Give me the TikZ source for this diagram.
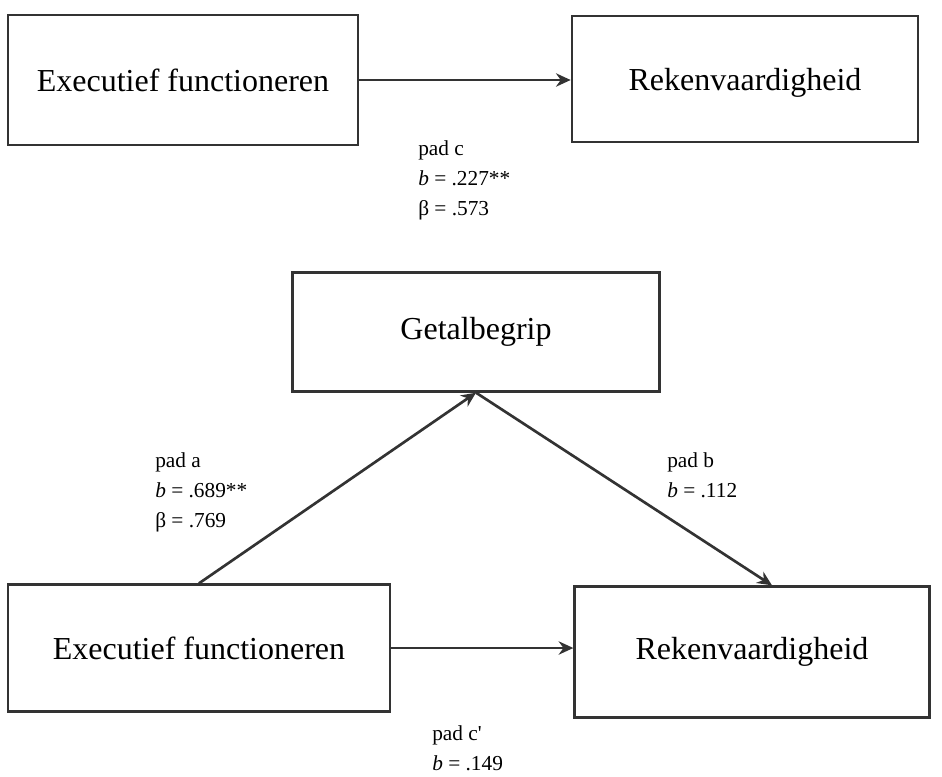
\documentclass[tikz,border=0pt]{standalone}
\usepackage{fontspec}
\setmainfont{Liberation Serif}
\usepackage{tikz}
\usetikzlibrary{positioning}
\usetikzlibrary{arrows.meta}
\tikzset{
    mediation/.style={
            x=0.75pt,y=-0.75pt,
            box/.style={draw=black!80,line width=2pt,inner sep=0pt,
                font=\fontsize{24}{28}\selectfont},
            arrow/.style={-{Stealth[length=11pt,width=10pt]},line width=2pt,draw=black!80},
            coef/.style={inner sep=0pt,anchor=north west,align=left,
                font=\fontsize{16}{22.5}\selectfont}
        }
    }
\newcommand{\bcoef}{\textit{b}}

\begin{document}
\begin{tikzpicture}[mediation]
    \useasboundingbox (0,0) rectangle (942,776);
    % total effect
    \node (exec1) [box,minimum width=262.5pt,minimum height=97.5pt] at (183,80) {Executief functioneren};
    \node (reken1) [box,minimum width=259.5pt,minimum height=94.5pt,text depth=-12pt] at (745,79) {Rekenvaardigheid};
    \draw [arrow] (exec1.east) -- (exec1.east -| reken1.west);
    \node (padc) [coef] at (418,140) {pad c\\\bcoef{} = .227**\\β = .573};
    % mediated model
    \node (getal) [box,minimum width=275pt,minimum height=89pt] at (476,332) {Getalbegrip};
    \node (exec2) [box,minimum width=286.5pt,minimum height=95pt] at (199,648) {Executief functioneren};
    \node (reken2) [box,minimum width=266pt,minimum height=98pt] at (752,652) {Rekenvaardigheid};
    \draw [arrow] (exec2.north) -- (getal.south);
    \draw [arrow] (getal.south) -- ([xshift=15pt]reken2.north);
    \draw [arrow] (exec2.east) -- (exec2.east -| reken2.west);
    \node (pada) [coef] at (155,452) {pad a\\\bcoef{} = .689**\\β = .769};
    \node (padb) [coef] at (667,452) {pad b\\\bcoef{} = .112};
    \node (padcc) [coef] at (432,725) {pad c\textquotesingle\\\bcoef{} = .149};
\end{tikzpicture}
\end{document}
